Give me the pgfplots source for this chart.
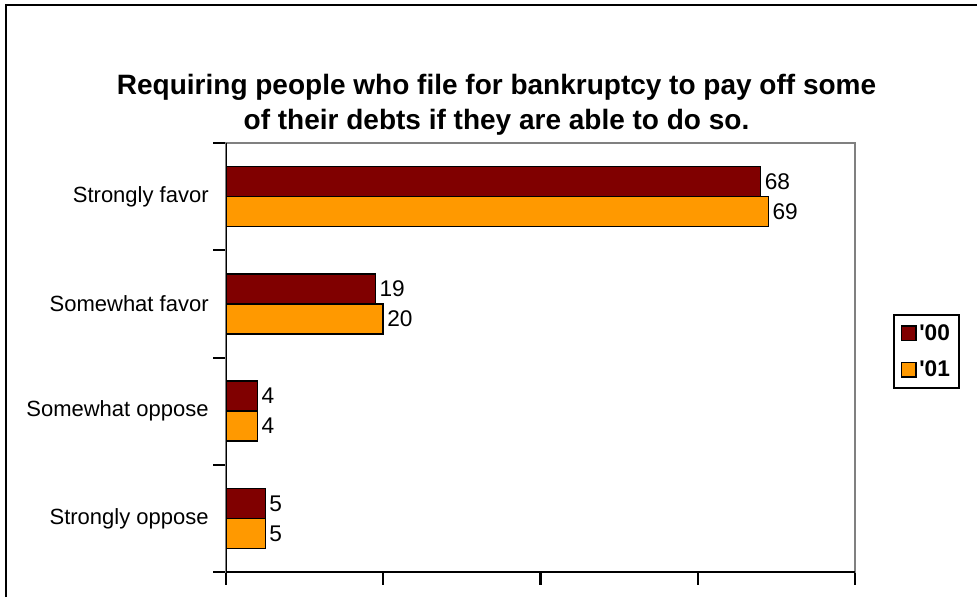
\documentclass[border=0pt]{standalone}
\usepackage{pgfplots}
\pgfplotsset{compat=1.18}
\usepackage{fontspec}
\setmainfont{Liberation Sans}
\definecolor{c00}{HTML}{800000}
\definecolor{c01}{HTML}{FF9900}
\begin{document}
\begin{tikzpicture}
\path[use as bounding box] (0,0) rectangle (732.75pt,447.75pt);
\draw[line width=1.5pt] (4.5pt,0) -- (4.5pt,444pt) -- (732.75pt,444pt);
\node[font=\bfseries\fontsize{21}{26}\selectfont, align=center] at (372.4pt,369pt) {Requiring people who file for bankruptcy to pay off some\\of their debts if they are able to do so.};
\begin{axis}[
 at={(169.5pt,18.75pt)}, anchor=south west,
 scale only axis, width=471.75pt, height=321.75pt,
 xbar, bar width=22.5pt,
 xmin=0, xmax=80, ymin=-0.5, ymax=3.5,
 xtick={0,20,40,60,80}, xticklabels={,,,,},
 ytick={-0.5,0.5,1.5,2.5,3.5}, yticklabels={,,,,},
 extra y ticks={0,1,2,3},
 extra y tick labels={Strongly oppose,Somewhat oppose,Somewhat favor,Strongly favor},
 extra y tick style={tick style={draw=none}},
 yticklabel style={font=\fontsize{16.5}{18}\selectfont},
 major tick length=9.5pt,
 tick align=outside, xtick pos=bottom, ytick pos=left,
 tick style={black, line width=1.5pt},
 axis line style={draw=gray, line width=1.5pt},
 nodes near coords, nodes near coords align=horizontal,
 every node near coord/.append style={font=\fontsize{17}{18}\selectfont, inner sep=2.5pt, black},
 /pgf/number format/assume math mode=true,
 legend style={at={(1.0604,0.6014)}, anchor=north west, draw=black, line width=1.5pt,
   font=\bfseries\fontsize{17}{18}\selectfont, row sep=10pt, inner xsep=5pt, inner ysep=5pt},
 legend cell align=left,
 legend image code/.code={\draw[#1,draw=black,line width=1pt] (0pt,-5.5pt) rectangle (11pt,5.5pt);},
]
\addplot[fill=c00, draw=black, line width=1.2pt, bar shift=11.25pt] coordinates {(5,0) (4,1) (19,2) (68,3)};
\addplot[fill=c01, draw=black, line width=1.2pt, bar shift=-11.25pt] coordinates {(5,0) (4,1) (20,2) (69,3)};
\legend{\textquotesingle00,\textquotesingle01}
\draw[black,line width=1.5pt] (rel axis cs:0,1) -- (rel axis cs:0,0) -- (rel axis cs:1,0);
\end{axis}
\end{tikzpicture}
\end{document}
